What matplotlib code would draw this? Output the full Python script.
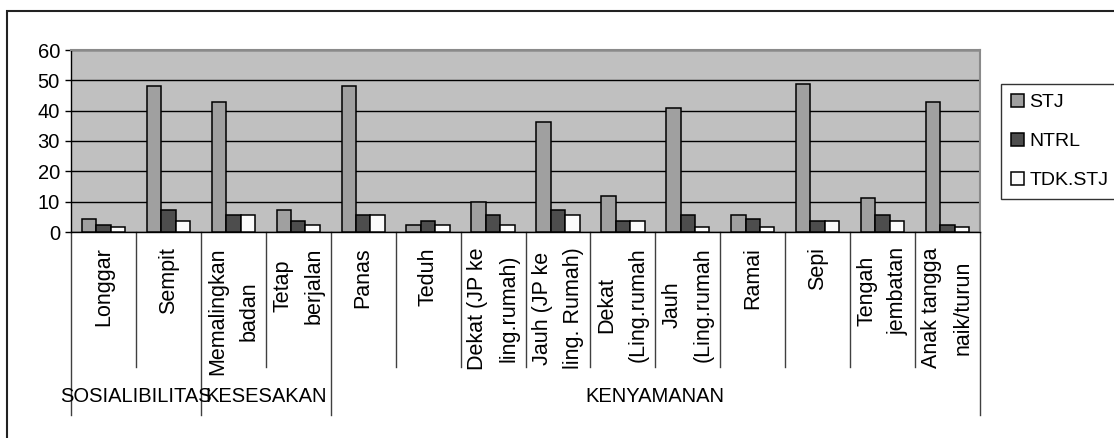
import numpy as np
import matplotlib
matplotlib.use("Agg")
import matplotlib.pyplot as plt
import matplotlib.patches as patches

plt.rcParams["font.family"] = ["Liberation Sans", "DejaVu Sans"]

# --- data ---
kategori = ["Longgar", "Sempit", "Memalingkan\nbadan", "Tetap\nberjalan", "Panas",
            "Teduh", "Dekat (JP ke\nling.rumah)", "Jauh (JP ke\nling. Rumah)",
            "Dekat\n(Ling.rumah", "Jauh\n(Ling.rumah", "Ramai", "Sepi",
            "Tengah\njembatan", "Anak tangga\nnaik/turun"]
stj = [4.2, 48, 43, 7.4, 48, 2.2, 10, 36.4, 12, 41, 5.5, 48.8, 11.3, 43]
ntrl = [2.2, 7.4, 5.5, 3.5, 5.5, 3.5, 5.5, 7.4, 3.5, 5.5, 4.2, 3.5, 5.5, 2.2]
tdk_stj = [1.5, 3.5, 5.5, 2.2, 5.5, 2.2, 2.2, 5.5, 3.5, 1.5, 1.5, 3.5, 3.5, 1.5]
kelompok = ["SOSIALIBILITAS", "KESESAKAN", "KENYAMANAN"]
jumlah_kelompok = [2, 2, 10]

W, H = 1114, 438
fig = plt.figure(figsize=(W / 100, H / 100), dpi=100)
ax = fig.add_axes([71 / W, 1 - 232 / H, (980 - 71) / W, (232 - 50) / H])

x = np.arange(len(kategori))
bw = 1 / 4.5
kw = dict(edgecolor="black", linewidth=1.1, zorder=3)
b1 = ax.bar(x - bw, stj, bw, color="#a0a0a0", label="STJ", **kw)
b2 = ax.bar(x, ntrl, bw, color="#4d4d4d", label="NTRL", **kw)
b3 = ax.bar(x + bw, tdk_stj, bw, color="#fbfbfb", label="TDK.STJ", **kw)

ax.set_facecolor("#c0c0c0")
ax.set_xlim(-0.5, len(kategori) - 0.5)
ax.set_ylim(0, 60)
ax.set_yticks(range(0, 61, 10))
ax.yaxis.grid(True, color="black", linewidth=1.0, zorder=1)
ax.set_axisbelow(True)
ax.tick_params(axis="y", direction="out", length=4, width=1, labelsize=14.5, pad=4)
ax.set_xticks([])
for s in ["top", "right"]:
    ax.spines[s].set_color("#8a8a8a")
    ax.spines[s].set_linewidth(1.5)
for s in ["left", "bottom"]:
    ax.spines[s].set_color("black")
    ax.spines[s].set_linewidth(1.0)

# --- category labels (rotated) ---
xt = ax.get_xaxis_transform()
for i, lab in enumerate(kategori):
    ax.annotate(lab, xy=(i, 0), xycoords=xt, xytext=(0, -11), textcoords="offset points",
                rotation=90, ha="center", va="top", multialignment="center",
                fontsize=15.5, linespacing=1.65)

# --- divider lines below axis ---
batas = np.cumsum([0] + jumlah_kelompok) - 0.5
y_kat = -(367 - 232) / 182
y_grp = -(415 - 232) / 182
for k in range(len(kategori) + 1):
    xb = k - 0.5
    y_end = y_grp if xb in batas else y_kat
    ax.plot([xb, xb], [0, y_end], transform=xt, color="#404040", linewidth=1.0, clip_on=False)

# --- group labels ---
y_lbl = -(397 - 232) / 182
for g, nama in enumerate(kelompok):
    xc = (batas[g] + batas[g + 1]) / 2
    ax.text(xc, y_lbl, nama, transform=xt, ha="center", va="center", fontsize=14.5)

# --- legend ---
leg = fig.legend(handles=[b1, b2, b3], loc="upper left",
                 bbox_to_anchor=(1001 / W, 1 - 84 / H), fontsize=14,
                 frameon=True, fancybox=False, edgecolor="black",
                 borderaxespad=0, borderpad=0.5, handlelength=0.7, handleheight=0.7,
                 handletextpad=0.25, labelspacing=1.1)
leg.get_frame().set_linewidth(1.0)

# outer chart border
fig.patches.append(patches.Rectangle((7 / W, -0.1), 1.2, 1 - 11 / H + 0.1,
                                     transform=fig.transFigure, fill=False,
                                     edgecolor="#222222", linewidth=1.5))

fig.savefig("out.png", dpi=100)
